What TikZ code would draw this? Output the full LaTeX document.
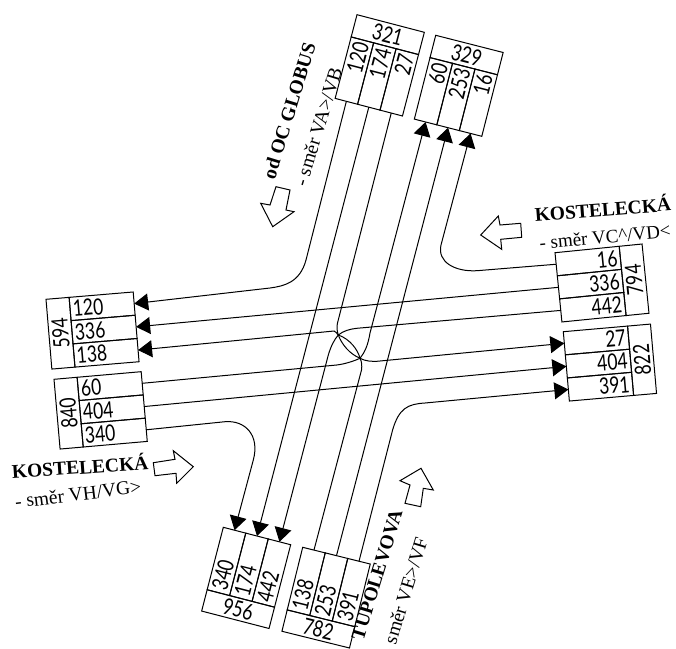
\documentclass[tikz,border=0pt]{standalone}
\usepackage{fontspec}
\setmainfont{Liberation Serif}
\newfontfamily\numf[FakeStretch=0.78]{Lato}
\usetikzlibrary{arrows.meta}
\tikzset{
  cellbox/.style={draw=black,line width=1pt,inner sep=0pt,outer sep=0pt,anchor=north west,font=\numf\fontsize{22.5}{22.5}\selectfont},
  numtext/.style={inner sep=0pt,outer sep=0pt,font=\numf\fontsize{22.5}{22.5}\selectfont},
  conn/.style={draw=black,line width=1pt},
  arr/.style={conn,-{Triangle[length=14pt,width=17pt]}},
  blockarrow/.style={draw=black,line width=1pt,fill=white,line join=miter},
  boldlabel/.style={inner sep=0pt,font=\bfseries\fontsize{19.5}{19.5}\selectfont},
  smerlabel/.style={inner sep=0pt,font=\fontsize{19.5}{19.5}\selectfont}
}
% header on top
\newcommand{\boxtop}[8]{%
\begin{scope}[shift={(#2,#3)},rotate=#4,transform shape]
\node[cellbox,minimum width=69.6pt,minimum height=23pt] (#1h) at (0,0) {#5};
\node[cellbox,minimum width=23.2pt,minimum height=63.5pt] (#1c1) at (0,23) {};
\node[cellbox,minimum width=23.2pt,minimum height=63.5pt] (#1c2) at (23.2,23) {};
\node[cellbox,minimum width=23.2pt,minimum height=63.5pt] (#1c3) at (46.4,23) {};
\node[numtext,rotate=90,anchor=east] (#1t1) at (11.6,26) {#6};
\node[numtext,rotate=90,anchor=east] (#1t2) at (34.8,26) {#7};
\node[numtext,rotate=90,anchor=east] (#1t3) at (58,26) {#8};
\end{scope}}
% header at the bottom
\newcommand{\boxbot}[8]{%
\begin{scope}[shift={(#2,#3)},rotate=#4,transform shape]
\node[cellbox,minimum width=23.2pt,minimum height=64.5pt] (#1c1) at (0,0) {};
\node[cellbox,minimum width=23.2pt,minimum height=64.5pt] (#1c2) at (23.2,0) {};
\node[cellbox,minimum width=23.2pt,minimum height=64.5pt] (#1c3) at (46.4,0) {};
\node[cellbox,minimum width=69.6pt,minimum height=22pt] (#1h) at (0,64.5) {#5};
\node[numtext,rotate=90,anchor=west] (#1t1) at (11.6,61.5) {#6};
\node[numtext,rotate=90,anchor=west] (#1t2) at (34.8,61.5) {#7};
\node[numtext,rotate=90,anchor=west] (#1t3) at (58,61.5) {#8};
\end{scope}}
% header at the left
\newcommand{\boxleft}[8]{%
\begin{scope}[shift={(#2,#3)},rotate=#4,transform shape]
\node[cellbox,minimum width=23.2pt,minimum height=70pt] (#1h) at (0,0) {\rotatebox{90}{#5}};
\node[cellbox,minimum width=64.3pt,minimum height=23.33pt] (#1c1) at (23.2,0) {};
\node[cellbox,minimum width=64.3pt,minimum height=23.33pt] (#1c2) at (23.2,23.33) {};
\node[cellbox,minimum width=64.3pt,minimum height=23.33pt] (#1c3) at (23.2,46.66) {};
\node[numtext,anchor=west] (#1t1) at (26,11.66) {#6};
\node[numtext,anchor=west] (#1t2) at (26,35) {#7};
\node[numtext,anchor=west] (#1t3) at (26,58.33) {#8};
\end{scope}}
% header at the right
\newcommand{\boxright}[8]{%
\begin{scope}[shift={(#2,#3)},rotate=#4,transform shape]
\node[cellbox,minimum width=64.5pt,minimum height=23.2pt] (#1c1) at (0,0) {};
\node[cellbox,minimum width=64.5pt,minimum height=23.2pt] (#1c2) at (0,23.2) {};
\node[cellbox,minimum width=64.5pt,minimum height=23.2pt] (#1c3) at (0,46.4) {};
\node[cellbox,minimum width=23pt,minimum height=69.6pt] (#1h) at (64.5,0) {\rotatebox{90}{#5}};
\node[numtext,anchor=east] (#1t1) at (61.5,11.6) {#6};
\node[numtext,anchor=east] (#1t2) at (61.5,34.8) {#7};
\node[numtext,anchor=east] (#1t3) at (61.5,58) {#8};
\end{scope}}
\begin{document}
\begin{tikzpicture}[x=1pt,y=-1pt]
\fill[white] (0,0) rectangle (676,648);
\clip (0,0) rectangle (676,648);
\boxtop{ba}{357}{14.7}{-14.65}{321}{120}{174}{27}
\boxtop{bb}{435.7}{35.3}{-14.3}{329}{60}{253}{16}
\boxbot{bc}{223.3}{527.3}{-14.5}{956}{340}{174}{442}
\boxbot{bd}{302.7}{547.3}{-13.9}{782}{138}{253}{391}
\boxleft{be}{46}{299.3}{4.8}{594}{120}{336}{138}
\boxleft{bf}{54}{379.3}{5}{840}{60}{404}{340}
\boxright{bg}{555}{252.7}{5.7}{794}{16}{336}{442}
\boxright{bh}{563.3}{331.7}{5}{822}{27}{404}{391}
% connectors
\draw[arr] (bac1.south) -- (306,260) .. controls (300,282) and (285,286) .. (270,288) -- (bec1.east);
\draw[arr] (bac2.south) -- (bcc2.north);
\draw[arr] (bac3.south) -- (337.5,323) .. controls (336.5,327) and (337,331) .. (338.3,335) .. controls (342,345) and (350,354) .. (360,358.3) .. controls (365,361) and (372,362) .. (380,361) -- (bhc1.west);
\draw[arr] (bfc1.east) -- (336.7,365) .. controls (345,364) and (354,361) .. (360,358.3) .. controls (365,352) and (368,345) .. (370,333) -- (bbc1.south);
\draw[arr] (bdc2.north) -- (bbc2.south);
\draw[arr] (bgc1.west) -- (477,270.7) .. controls (455,272) and (437,262) .. (441,245) -- (bbc3.south);
\draw[arr] (bgc2.west) -- (bec2.east);
\draw[arr] (bgc3.west) -- (356.7,328.3) .. controls (350,329) and (343,331) .. (338.3,335) .. controls (334,340) and (331,346) .. (328.3,355) -- (bcc3.north);
\draw[arr] (bdc1.north) -- (361.5,370) .. controls (362,366) and (362,362) .. (360,358.3) .. controls (358,350) and (350,339) .. (338.3,335) .. controls (337,333) and (335,331.5) .. (334,331) -- (bec3.east);
\draw[arr] (bfc2.east) -- (bhc2.west);
\draw[arr] (bfc3.east) -- (225,421.7) .. controls (245,420) and (260,435) .. (253.3,460) -- (bcc1.north);
\draw[arr] (bdc3.north) -- (392.6,430) .. controls (399,408) and (408,404) .. (425,403) -- (bhc3.west);
% block arrows
\draw[blockarrow] (276,186.7)--(290,190)--(286,210)--(294,211.7)--(272.7,226.7)--(260.7,203.3)--(270,205)--cycle;
\draw[blockarrow] (480.7,235)--(498.3,216)--(500,225)--(520.7,223.3)--(521.7,237.3)--(500.7,239.3)--(501.7,249.3)--cycle;
\draw[blockarrow] (193.3,466.7)--(173.3,450.7)--(175,459.3)--(153.3,462.7)--(155,475.7)--(176,473.3)--(176.7,483.3)--cycle;
\draw[blockarrow] (421,468.3)--(433.3,490)--(423.3,488.3)--(420.7,506.7)--(405,503.3)--(410,485)--(400,480.7)--cycle;
% labels
\node[boldlabel,rotate=73] (lglobus) at (289,111) {od OC GLOBUS};
\node[smerlabel,rotate=73] (lva) at (318,127) {- směr VA>/VB};
\node[boldlabel,rotate=4] (lkostl) at (80,465.7) {KOSTELECKÁ};
\node[smerlabel,rotate=7] (lvh) at (78,494) {- směr VH/VG>};
\node[boldlabel,rotate=4.5] (lkostr) at (602.7,208) {KOSTELECKÁ};
\node[smerlabel,rotate=5.5,font=\fontsize{19}{19}\selectfont] (lvc) at (605,236.7) {- směr VC\^{}/VD<};
\node[boldlabel,rotate=73] (ltup) at (377,575) {TUPOLEVOVA};
\node[smerlabel,rotate=73] (lve) at (404,596) {- směr VE>/VF};
\end{tikzpicture}
\end{document}
